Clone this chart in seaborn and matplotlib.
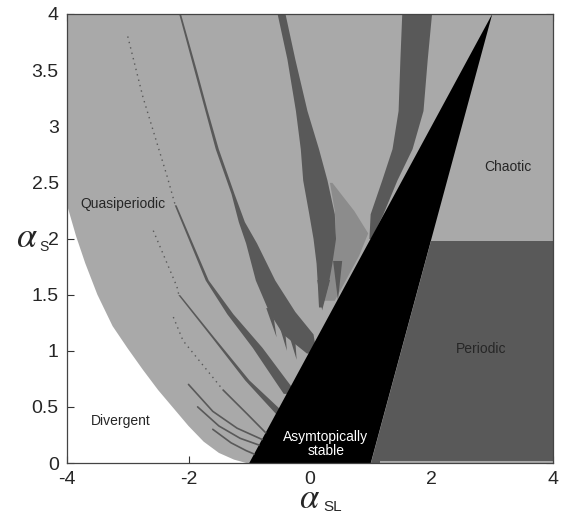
import matplotlib
matplotlib.use("Agg")
import matplotlib.pyplot as plt
import seaborn as sns

LIGHT = "#a9a9a9"
DARK = "#595959"
SPECKLE = "#8c8c8c"

# lower edge of the bounded (grey) region, white below = divergent
div_x = [-4.0, -3.85, -3.7, -3.5, -3.25, -3.0, -2.75, -2.5, -2.25, -2.0, -1.75, -1.5, -1.25, -1.05]
div_y = [2.3, 2.02, 1.78, 1.5, 1.22, 1.02, 0.83, 0.65, 0.49, 0.33, 0.19, 0.09, 0.03, 0.0]

# asymptotically stable wedge
stable_x = [-1.0, 1.0, 3.0]
stable_y = [0.0, 0.0, 4.0]

# periodic block to the right of the wedge
periodic_x = [1.0, 4.0, 4.0, 1.99]
periodic_y = [0.0, 0.0, 1.98, 1.98]

# wide tongues: y samples with left / right edge
tongueA_y = [4.0, 3.5, 3.14, 2.8, 2.4, 2.15, 1.96, 1.63, 1.35, 1.15, 0.98]
tongueA_xl = [-2.16, -1.91, -1.73, -1.56, -1.30, -1.18, -1.06, -0.9, -0.68, -0.45, -0.06]
tongueA_xr = [-2.13, -1.87, -1.69, -1.51, -1.25, -1.08, -0.88, -0.58, -0.25, 0.05, 0.1]

tongueB_y = [4.0, 3.6, 3.14, 2.8, 2.52, 2.22, 2.0, 1.78, 1.6, 1.39]
tongueB_xl = [-0.54, -0.38, -0.24, -0.16, -0.12, -0.02, 0.05, 0.1, 0.12, 0.14]
tongueB_xr = [-0.41, -0.25, -0.05, 0.14, 0.28, 0.40, 0.42, 0.36, 0.30, 0.19]

tongueC_y = [4.0, 3.6, 3.14, 2.8, 2.52, 2.22, 2.0]
tongueC_xl = [1.51, 1.48, 1.45, 1.35, 1.18, 0.99, 0.97]
tongueC_xr = [2.00, 1.93, 1.86, 1.68, 1.43, 1.20, 1.00]

speck_y = [2.5, 2.25, 2.05, 1.85, 1.65, 1.45]
speck_xl = [0.32, 0.40, 0.42, 0.36, 0.28, 0.2]
speck_xr = [0.36, 0.72, 0.95, 0.8, 0.6, 0.4]

# spikes hanging below the tongue ends (top-left, top-right, tip)
spikes_x = [[-0.72, -0.62, -0.55], [-0.52, -0.42, -0.38], [-0.35, -0.25, -0.22],
            [0.12, 0.33, 0.2], [0.38, 0.53, 0.46]]
spikes_y = [[1.38, 1.38, 1.12], [1.25, 1.25, 1.0], [1.15, 1.15, 0.92],
            [1.63, 1.63, 1.36], [1.8, 1.8, 1.45]]

tongueE_y = [2.3, 1.63, 1.33, 1.03, 0.74, 0.62]
tongueE_xc = [-2.22, -1.70, -1.32, -0.87, -0.49, -0.33]
tongueE_w = [0.03, 0.05, 0.1, 0.16, 0.2, 0.22]

tongueF_y = [1.5, 1.12, 0.74, 0.56, 0.44]
tongueF_xc = [-2.16, -1.6, -1.04, -0.71, -0.49]
tongueF_w = [0.03, 0.04, 0.07, 0.12, 0.15]

# thin lines (dotted = faint chains of points)
dotE_x = [-3.0, -2.75, -2.35, -2.22]
dotE_y = [3.8, 3.26, 2.55, 2.3]
dotF_x = [-2.58, -2.19, -2.16]
dotF_y = [2.07, 1.57, 1.5]
dotH_x = [-2.25, -2.09, -1.43]
dotH_y = [1.3, 1.09, 0.65]
lineH_x = [-1.43, -1.04, -0.73]
lineH_y = [0.65, 0.44, 0.27]
lineI_x = [-1.85, -1.5, -1.15, -0.84]
lineI_y = [0.5, 0.33, 0.22, 0.16]
lineJ_x = [-1.6, -1.3, -1.05, -0.92]
lineJ_y = [0.3, 0.18, 0.11, 0.08]
lineK_x = [-2.0, -1.6, -1.2, -0.79]
lineK_y = [0.7, 0.46, 0.31, 0.21]

x_ticks = [-4, -2, 0, 2, 4]
x_labels = ["-4", "-2", "0", "2", "4"]
y_ticks = [0, 0.5, 1, 1.5, 2, 2.5, 3, 3.5, 4]
y_labels = ["0", "0.5", "1", "1.5", "2", "2.5", "3", "3.5", "4"]

sns.set_theme(style="ticks")
plt.rcParams["font.family"] = ["Liberation Sans", "DejaVu Sans"]
plt.rcParams["axes.unicode_minus"] = False

fig = plt.figure(figsize=(5.62, 5.15), dpi=100)
ax = fig.add_axes([67 / 562, 1 - 463 / 515, 486 / 562, 449 / 515])
ax.set_facecolor("white")

# grey (bounded) region above the divergence edge
ax.fill(div_x + [4.0, 4.0, -4.0], div_y + [0.0, 4.0, 4.0], color=LIGHT, lw=0)

ax.fill_betweenx(speck_y, speck_xl, speck_xr, color=SPECKLE, lw=0)
for ty, xl, xr in [(tongueA_y, tongueA_xl, tongueA_xr),
                   (tongueB_y, tongueB_xl, tongueB_xr),
                   (tongueC_y, tongueC_xl, tongueC_xr)]:
    ax.fill_betweenx(ty, xl, xr, color=DARK, lw=0)
for sx, sy in zip(spikes_x, spikes_y):
    ax.fill(sx, sy, color=DARK, lw=0)

for ty, xc, w in [(tongueE_y, tongueE_xc, tongueE_w),
                  (tongueF_y, tongueF_xc, tongueF_w)]:
    xl = [c - h / 2 for c, h in zip(xc, w)]
    xr = [c + h / 2 for c, h in zip(xc, w)]
    ax.fill_betweenx(ty, xl, xr, color=DARK, lw=0)

for lx, ly in [(dotE_x, dotE_y), (dotF_x, dotF_y), (dotH_x, dotH_y)]:
    sns.lineplot(x=lx, y=ly, ax=ax, sort=False, estimator=None, color=DARK,
                 lw=1.0, linestyle=(0, (1, 3)))
for lx, ly in [(lineH_x, lineH_y), (lineI_x, lineI_y), (lineJ_x, lineJ_y), (lineK_x, lineK_y)]:
    sns.lineplot(x=lx, y=ly, ax=ax, sort=False, estimator=None, color=DARK, lw=1.2)

ax.fill(stable_x, stable_y, color="black", lw=0)
ax.fill(periodic_x, periodic_y, color=DARK, lw=0)
ax.fill_between([1.15, 4.0], 0, 0.02, color=LIGHT, lw=0)

ax.text(-3.08, 2.31, "Quasiperiodic", fontsize=10, ha="center", va="center")
ax.text(-3.11, 0.37, "Divergent", fontsize=10, ha="center", va="center")
ax.text(3.26, 2.64, "Chaotic", fontsize=10, ha="center", va="center")
ax.text(2.81, 1.02, "Periodic", fontsize=10, ha="center", va="center")
ax.text(0.26, 0.17, "Asymtopically\nstable", fontsize=10, ha="center", va="center",
        color="white", linespacing=1.0)

ax.set_xlim(-4, 4)
ax.set_ylim(0, 4)
ax.set_xticks(x_ticks)
ax.set_xticklabels(x_labels)
ax.set_yticks(y_ticks)
ax.set_yticklabels(y_labels)
ax.tick_params(direction="in", top=True, right=True, length=5, width=0.8,
               labelsize=14, color="#333333", pad=6)
for s in ax.spines.values():
    s.set_color("#444444")
    s.set_linewidth(0.9)
ax.set_xlabel("")
ax.set_ylabel("")

# axis labels: large serif alpha with small sans subscript
fig.text(310 / 562, 1 - 508 / 515, r"$\alpha$", fontsize=25, math_fontfamily="stix",
         ha="center", va="baseline")
fig.text(323 / 562, 1 - 511 / 515, "SL", fontsize=11, ha="left", va="baseline")
fig.text(27 / 562, 1 - 247 / 515, r"$\alpha$", fontsize=26, math_fontfamily="stix",
         ha="center", va="baseline")
fig.text(39 / 562, 1 - 251 / 515, "S", fontsize=10, ha="left", va="baseline")

fig.savefig("out.png", dpi=100)
